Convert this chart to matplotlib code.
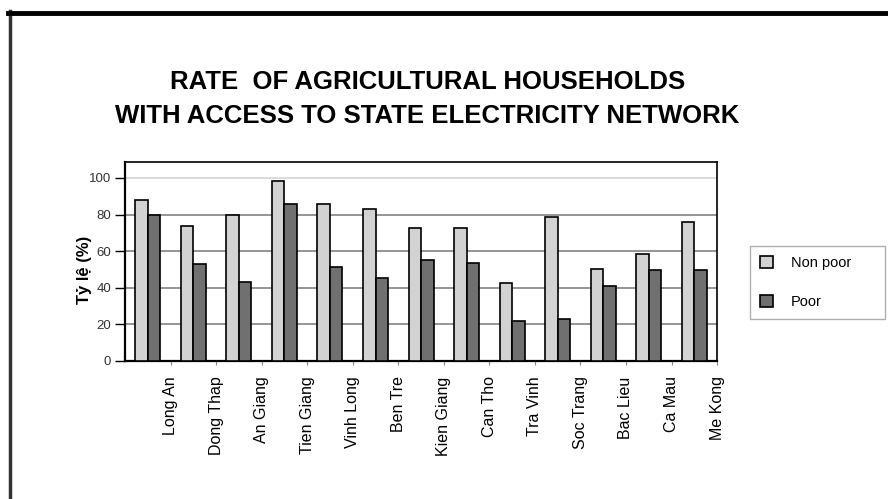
import numpy as np
import matplotlib
matplotlib.use("Agg")
import matplotlib.pyplot as plt
from matplotlib.lines import Line2D

# Provinces of the Mekong delta (labels sit on the group boundaries in the original)
provinces = ['Long An', 'Dong Thap', 'An Giang', 'Tien Giang', 'Vinh Long',
             'Ben Tre', 'Kien Giang', 'Can Tho', 'Tra Vinh', 'Soc Trang',
             'Bac Lieu', 'Ca Mau', 'Me Kong']

# Rate (%) of households with access to the state network
non_poor = [88, 74, 80, 98.5, 85.5, 83, 72.5, 72.5, 42.5, 78.5, 50.5, 58.5, 76]
poor = [80, 53, 43, 86, 51.5, 45.5, 55, 53.5, 22, 23, 41, 49.5, 49.5]

y_ticks = [0, 20, 40, 60, 80, 100]

FONT = ['Liberation Sans', 'DejaVu Sans']


def draw_chart():
    plt.rcParams['font.family'] = FONT

    fig = plt.figure(figsize=(8.88, 4.99), dpi=100)
    ax = fig.add_axes([0.1408, 0.2766, 0.6667, 0.3988])

    x = np.arange(len(provinces))
    w = 0.275
    ax.bar(x - w / 2, non_poor, w, color='#d2d2d2', edgecolor='black',
           linewidth=1.2, label='Non poor', zorder=3)
    ax.bar(x + w / 2, poor, w, color='#707070', edgecolor='black',
           linewidth=1.2, label='Poor', zorder=3)

    ax.set_xlim(-0.5, len(provinces) - 0.5)
    ax.set_ylim(0, 108.7)

    # horizontal grid, the top line is fainter in the original
    for v in y_ticks[1:]:
        ax.axhline(v, color='#d8d8d8' if v == 100 else '#8c8c8c',
                   lw=1.3, zorder=1)

    ax.set_yticks(y_ticks)
    ax.set_yticklabels([str(v) for v in y_ticks], fontsize=9.5, color='#333333')
    ax.tick_params(axis='y', length=7, width=1, direction='out', pad=3)

    # labels sit on the boundary ticks, not under the bars
    ax.set_xticks(x + 0.5)
    ax.set_xticklabels(provinces, rotation=90, fontsize=11.5, va='top')
    ax.tick_params(axis='x', length=3, width=0.8, color='#888888', pad=8)

    for side in ['left', 'bottom']:
        ax.spines[side].set_linewidth(1.6)
    for side in ['top', 'right']:
        ax.spines[side].set_linewidth(1.2)

    ax.set_ylabel('Tỷ lệ (%)', fontsize=12, fontweight='bold')
    ax.yaxis.set_label_coords(-0.055, 0.46)

    fig.text(0.482, 0.836, 'RATE  OF AGRICULTURAL HOUSEHOLDS', ha='center',
             va='center', fontsize=18.5, fontweight='bold')
    fig.text(0.481, 0.768, 'WITH ACCESS TO STATE ELECTRICITY NETWORK',
             ha='center', va='center', fontsize=18.5, fontweight='bold')

    leg = fig.legend(loc='upper left',
                     bbox_to_anchor=(750 / 888, 1 - 246 / 499 - 0.01,
                                     135 / 888, 0.01),
                     mode='expand', fontsize=10.5, frameon=True, fancybox=False,
                     handlelength=0.9, handleheight=0.9, labelspacing=1.7,
                     borderpad=0.7, handletextpad=1.2, borderaxespad=0)
    leg.get_frame().set_edgecolor('#999999')
    leg.get_frame().set_linewidth(1.0)

    # outer frame of the scanned picture: only left and top visible
    fig.add_artist(Line2D([10 / 888, 10 / 888], [0, 1 - 11 / 499],
                          transform=fig.transFigure, color='#333333', lw=2.5))
    fig.add_artist(Line2D([8 / 888, 1], [1 - 13 / 499, 1 - 13 / 499],
                          transform=fig.transFigure, color='black', lw=3.5))

    fig.savefig('out.png', dpi=100)


if __name__ == '__main__':
    draw_chart()
